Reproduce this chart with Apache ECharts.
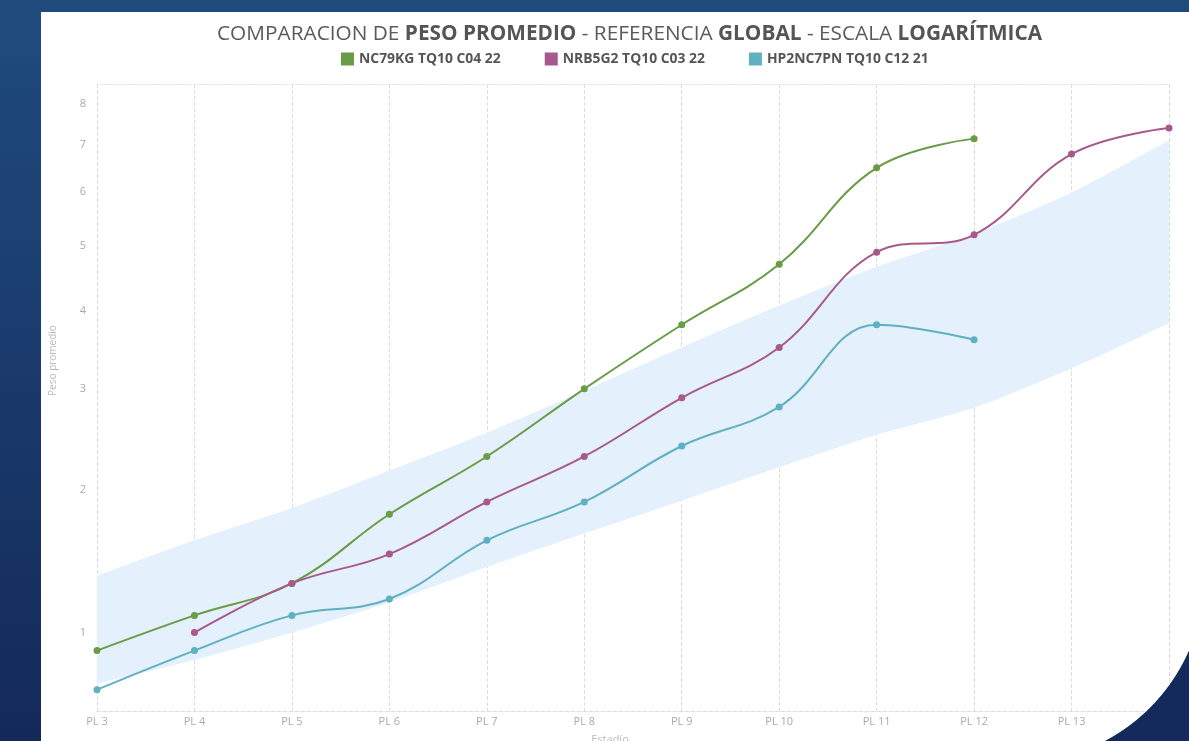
<!DOCTYPE html>
<html>
<head>
<meta charset="utf-8">
<script src="https://cdn.jsdelivr.net/npm/echarts@6/dist/echarts.min.js"></script>
<style>
  html, body { margin: 0; padding: 0; width: 1189px; height: 741px; overflow: hidden; background: #1e4678; }
  .topbar { position: absolute; left: 0; top: 0; width: 1189px; height: 12px; background: #1f4a7c; }
  .side { position: absolute; left: 0; top: 12px; width: 41px; height: 729px;
          background: linear-gradient(#204b7d, #13295a); }
  .card { position: absolute; left: 41px; top: 12px; width: 1164px; height: 751px;
          background: #fff; border-bottom-right-radius: 188px; }
  #chart { position: absolute; left: 0; top: 0; width: 1189px; height: 741px; }
  .corner { position: absolute; left: 1017px; top: 575px; width: 172px; height: 166px; pointer-events: none;
            background: radial-gradient(circle 188px at 0 0, rgba(20,42,92,0) 187.5px, #142a5c 188.5px); }
</style>
</head>
<body>
<div class="topbar"></div>
<div class="side"></div>
<div class="card"></div>
<div id="chart"></div>
<div class="corner"></div>
<script>
// datos (peso promedio por estadio)
const categories = ['PL 3', 'PL 4', 'PL 5', 'PL 6', 'PL 7', 'PL 8', 'PL 9', 'PL 10', 'PL 11', 'PL 12', 'PL 13', 'PL 14'];
const nc79kg   = [0.9, 1.1, 1.3, 1.8, 2.3, 3.0, 3.8, 4.7, 6.5, 7.15, null, null];
const nrb5g2   = [null, 1.0, 1.3, 1.5, 1.9, 2.3, 2.9, 3.5, 4.9, 5.2, 6.8, 7.4];
const hp2nc7pn = [0.7, 0.9, 1.1, 1.2, 1.6, 1.9, 2.4, 2.8, 3.8, 3.6, null, null];
// referencia global (banda)
const refLower = [0.73, 0.85, 1.0, 1.18, 1.41, 1.65, 1.91, 2.2, 2.51, 2.79, 3.24, 3.82];
const refUpper = [1.35, 1.6, 1.85, 2.17, 2.53, 2.98, 3.5, 4.07, 4.66, 5.22, 5.99, 7.11];
const yTicks = [1, 2, 3, 4, 5, 6, 7, 8];
const yMin = 0.6, yMax = 8.52;

// escala logaritmica: log10(v + 1)
const toAxis = v => (v == null ? null : Math.log10(v + 1));
const fromAxis = v => Math.pow(10, v) - 1;

const chart = echarts.init(document.getElementById('chart'));

function lineSerie(name, data, color) {
  return {
    name: name,
    type: 'line',
    data: data.map(toAxis),
    smooth: 0.4,
    symbol: 'circle',
    symbolSize: 7,
    z: 3,
    itemStyle: { color: color },
    lineStyle: { color: color, width: 2 }
  };
}

chart.setOption({
  textStyle: { fontFamily: 'Open Sans' },
  title: {
    text: '{a|COMPARACION DE }{b|PESO PROMEDIO}{a| - REFERENCIA }{b|GLOBAL}{a| - ESCALA }{b|LOGARÍTMICA}',
    left: 212,
    top: 19,
    textStyle: {
      rich: {
        a: { fontSize: 20.8, color: '#5a5a5a', fontWeight: 'normal', fontFamily: 'Open Sans' },
        b: { fontSize: 20.8, color: '#555', fontWeight: 'bold', fontFamily: 'Open Sans' }
      }
    }
  },
  legend: {
    data: ['NC79KG TQ10 C04 22', 'NRB5G2 TQ10 C03 22', 'HP2NC7PN TQ10 C12 21'],
    left: 336,
    top: 47,
    icon: 'rect',
    itemWidth: 13,
    itemHeight: 13,
    itemGap: 44,
    textStyle: { color: '#555', fontSize: 13.9, fontWeight: 'bold', fontFamily: 'Open Sans' }
  },
  grid: { left: 97, right: 20, top: 84, bottom: 30, outerBoundsMode: 'none', containLabel: false },
  xAxis: [{
    type: 'category',
    data: categories,
    boundaryGap: false,
    name: 'Estadío',
    nameLocation: 'middle',
    nameGap: 23,
    nameTextStyle: { color: '#bbb', fontSize: 11, padding: [0, 46, 0, 0] },
    axisLine: { lineStyle: { color: '#ddd', type: 'dashed' } },
    axisTick: { show: false },
    axisLabel: { color: '#aaa', fontSize: 11, margin: 5 },
    splitLine: { show: true, lineStyle: { color: '#ddd', type: 'dashed' } }
  }, {
    type: 'category',
    data: categories,
    boundaryGap: false,
    position: 'top',
    axisLine: { lineStyle: { color: '#e6e6e6', type: 'dashed' } },
    axisTick: { show: false },
    axisLabel: { show: false }
  }],
  yAxis: {
    type: 'value',
    min: toAxis(yMin),
    max: toAxis(yMax),
    name: 'Peso promedio',
    nameLocation: 'middle',
    nameGap: 39,
    nameTextStyle: { color: '#bbb', fontSize: 10, padding: [0, 0, 0, 74] },
    axisLine: { show: false },
    axisTick: { show: false },
    splitLine: { show: false },
    axisLabel: {
      color: '#aaa',
      fontSize: 11,
      margin: 11,
      customValues: yTicks.map(toAxis),
      formatter: v => String(Math.round(fromAxis(v)))
    }
  },
  series: [
    {
      name: 'refLower',
      type: 'line',
      stack: 'ref',
      data: refLower.map(toAxis),
      smooth: 0.3,
      symbol: 'none',
      lineStyle: { opacity: 0 },
      silent: true,
      z: 1
    },
    {
      name: 'refBand',
      type: 'line',
      stack: 'ref',
      data: refUpper.map((u, i) => toAxis(u) - toAxis(refLower[i])),
      smooth: 0.3,
      symbol: 'none',
      lineStyle: { opacity: 0 },
      areaStyle: { color: '#e4f0fc', opacity: 1 },
      silent: true,
      z: 1
    },
    lineSerie('NC79KG TQ10 C04 22', nc79kg, '#6a9b45'),
    lineSerie('NRB5G2 TQ10 C03 22', nrb5g2, '#a8598b'),
    lineSerie('HP2NC7PN TQ10 C12 21', hp2nc7pn, '#5fb0c1')
  ]
});
</script>
</body>
</html>
